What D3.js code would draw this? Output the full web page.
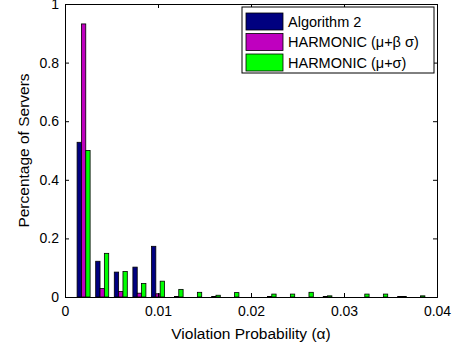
<!DOCTYPE html>
<html>
<head>
<meta charset="utf-8">
<script src="https://cdn.jsdelivr.net/npm/d3@7"></script>
<style>
  body { margin: 0; background: #fff; }
  svg { display: block; font-family: "Liberation Sans", Arial, Helvetica, sans-serif; }
</style>
</head>
<body>
<svg id="chart" width="458" height="343"></svg>
<script>
// bin centres of the histogram (violation probability)
const binCenters = [0.002, 0.004, 0.006, 0.008, 0.010, 0.012, 0.014, 0.016, 0.018, 0.020,
                    0.022, 0.024, 0.026, 0.028, 0.030, 0.032, 0.034, 0.036, 0.038];

const seriesNames = ['Algorithm 2', 'HARMONIC (\u03bc+\u03b2 \u03c3)', 'HARMONIC (\u03bc+\u03c3)'];

const algo2 =       [0.528, 0.122, 0.085, 0.102, 0.173, 0, 0, 0, 0, 0, 0, 0, 0, 0, 0, 0, 0, 0, 0];
const harmonicBeta = [0.932, 0.029, 0.019, 0.013, 0.011, 0.002, 0, 0.002, 0, 0, 0.002, 0, 0, 0.002, 0, 0, 0, 0.002, 0];
const harmonicSig =  [0.500, 0.149, 0.087, 0.046, 0.054, 0.026, 0.016, 0.006, 0.015, 0, 0.010, 0.010, 0.016, 0.004, 0, 0.010, 0.010, 0.002, 0.004];

const xTicks = [0, 0.01, 0.02, 0.03, 0.04];
const yTicks = [0, 0.2, 0.4, 0.6, 0.8, 1];

const colors = ['#000080', '#bf00bf', '#00ff00'];

const svg = d3.select('#chart');
const margin = { left: 65, right: 21, top: 4, bottom: 46 };
const width = 458 - margin.left - margin.right;
const height = 343 - margin.top - margin.bottom;

const x = d3.scaleLinear().domain([0, 0.04]).range([0, width]);
const y = d3.scaleLinear().domain([0, 1]).range([height, 0]);

const g = svg.append('g').attr('transform', `translate(${margin.left},${margin.top})`);

// grouped bars, MATLAB style: group takes 0.7 of the bin
const binW = 0.002;
const barW = binW * 0.7 / 3;
const series = [algo2, harmonicBeta, harmonicSig];

series.forEach((vals, si) => {
  g.append('g')
    .selectAll('rect')
    .data(vals.map((v, i) => ({ c: binCenters[i], v })))
    .join('rect')
    .attr('x', d => x(d.c + (si - 1) * barW - barW / 2))
    .attr('width', x(barW) - x(0))
    .attr('y', d => y(d.v))
    .attr('height', d => y(0) - y(d.v))
    .attr('fill', colors[si])
    .attr('stroke', d => d.v > 0 ? '#000' : 'none')
    .attr('stroke-width', 0.8);
});

// axes, ticks pointing inwards
const tickFmt = d => d === 0 ? '0' : d3.format('~g')(d);

const xAxis = g.append('g')
  .attr('transform', `translate(0,${height})`)
  .call(d3.axisBottom(x).tickValues(xTicks).tickSize(-4).tickPadding(7).tickFormat(tickFmt));
g.append('g')
  .call(d3.axisTop(x).tickValues(xTicks).tickSize(-4).tickFormat(''));
const yAxis = g.append('g')
  .call(d3.axisLeft(y).tickValues(yTicks).tickSize(-4).tickPadding(6).tickFormat(tickFmt));
g.append('g')
  .attr('transform', `translate(${width},0)`)
  .call(d3.axisRight(y).tickValues(yTicks).tickSize(-4).tickFormat(''));

g.selectAll('.domain').attr('stroke', '#000');
g.selectAll('.tick line').attr('stroke', '#000');
g.selectAll('.tick text').attr('fill', '#000').style('font-size', '14px');
xAxis.selectAll('.tick text').attr('dy', '0.85em');

// axis labels
g.append('text')
  .attr('x', width / 2)
  .attr('y', height + 42)
  .attr('text-anchor', 'middle')
  .style('font-size', '15.5px')
  .text('Violation Probability (\u03b1)');

g.append('text')
  .attr('transform', `translate(${-36},${height / 2}) rotate(-90)`)
  .attr('text-anchor', 'middle')
  .style('font-size', '15.5px')
  .text('Percentage of Servers');

// legend
const legend = g.append('g').attr('transform', `translate(${width - 195},3)`);
legend.append('rect')
  .attr('width', 192).attr('height', 66)
  .attr('fill', '#fff').attr('stroke', '#000');

seriesNames.forEach((name, i) => {
  const row = legend.append('g').attr('transform', `translate(4,${6 + i * 20.5})`);
  row.append('rect')
    .attr('width', 37).attr('height', 17)
    .attr('fill', colors[i]).attr('stroke', '#000').attr('stroke-width', 0.8);
  row.append('text')
    .attr('x', 42).attr('y', 13.5)
    .style('font-size', '14.5px')
    .text(name);
});
</script>
</body>
</html>
